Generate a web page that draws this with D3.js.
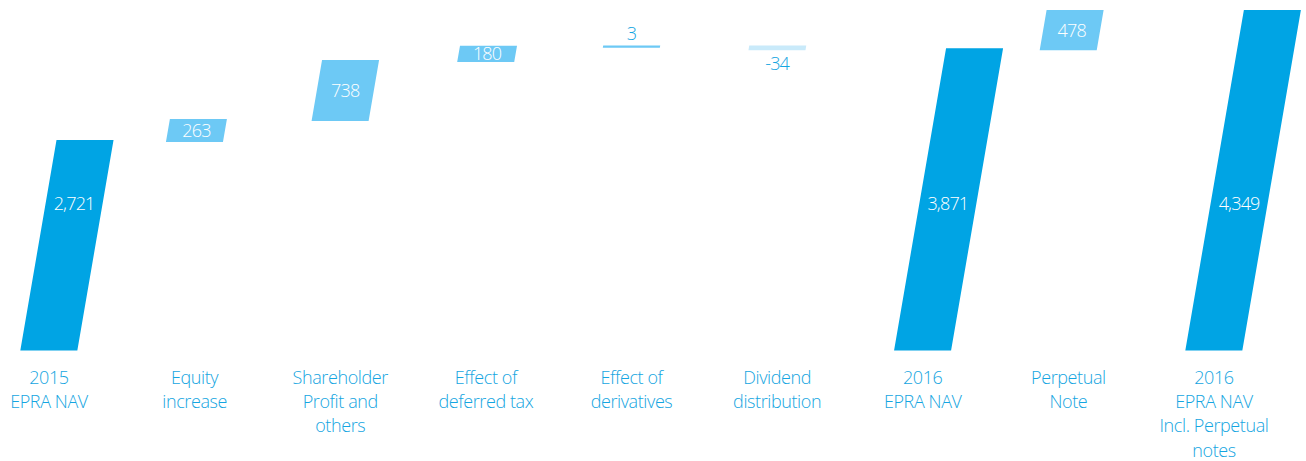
<!DOCTYPE html>
<html>
<head>
<meta charset="utf-8">
<script src="https://cdn.jsdelivr.net/npm/d3@7"></script>
<style>
  html, body { margin: 0; padding: 0; background: #fff; }
  svg { display: block; }
</style>
</head>
<body>
<svg id="chart" width="1306" height="461"></svg>
<script>
// EPRA NAV bridge, 2015 -> 2016 (EUR m)
const categories = [
  ["2015", "EPRA NAV"],
  ["Equity", "increase"],
  ["Shareholder", "Profit and", "others"],
  ["Effect of", "deferred tax"],
  ["Effect of", "derivatives"],
  ["Dividend", "distribution"],
  ["2016", "EPRA NAV"],
  ["Perpetual", "Note"],
  ["2016", "EPRA NAV", "Incl. Perpetual", "notes"]
];
const values = [2721, 263, 738, 180, 3, -34, 3871, 478, 4349];
const kinds = ["total", "delta", "delta", "delta", "delta", "delta", "total", "delta", "total"];

const baseY = 349.5;          // bottom edge of the full-height bars
const barW = 55;              // fill width; a 2px stroke in the same colour is added
const slant = 0.172;          // horizontal shift per pixel of bar height
const colTotal = "#00a4e4";
const colUp = "#6dc9f5";
const colDown = "#c9eafa";
const colText = "#14a5e1";
const font = "'Open Sans', Lato, sans-serif";

const fmt = d3.formatLocale({ decimal: ".", thousands: ",", grouping: [3], currency: ["", ""], minus: "-" }).format(",");

// running waterfall levels
let level = 0;
const bars = values.map((v, i) => {
  let start, end;
  if (kinds[i] === "total") { start = 0; end = v; level = v; }
  else { start = level; end = level + v; level = end; }
  return { i, v, start, end, kind: kinds[i], label: fmt(v) };
});

const x = d3.scalePoint()
  .domain(d3.range(categories.length))
  .range([49, 1214]);

const y = d3.scaleLinear()
  .domain([0, d3.max(values)])
  .range([358.4, 11]);

const svg = d3.select("#chart");

function geom(d) {
  const cx = x(d.i);
  const yTop = y(Math.max(d.start, d.end));
  const yBot = Math.min(y(Math.min(d.start, d.end)), baseY);
  return { cx, yTop, yBot };
}

function path(d) {
  const { cx, yTop, yBot } = geom(d);
  const s = slant * (yBot - yTop);
  const p = d3.path();
  p.moveTo(cx - barW / 2, yBot);
  p.lineTo(cx + barW / 2, yBot);
  p.lineTo(cx + barW / 2 + s, yTop);
  p.lineTo(cx - barW / 2 + s, yTop);
  p.closePath();
  return p.toString();
}

function fill(d) {
  if (d.kind === "total") return colTotal;
  return d.v >= 0 ? colUp : colDown;
}

svg.append("g")
  .selectAll("path")
  .data(bars)
  .join("path")
  .attr("d", path)
  .attr("fill", fill)
  .attr("stroke", fill)
  .attr("stroke-width", 2)
  .attr("stroke-linejoin", "miter");

// value labels: inside tall bars, outside the very thin ones
const labels = svg.append("g")
  .attr("font-family", font)
  .attr("font-size", 18)
  .attr("font-weight", 300)
  .attr("letter-spacing", -0.8)
  .attr("text-anchor", "middle");

bars.forEach(d => {
  const { cx, yTop, yBot } = geom(d);
  const h = yBot - yTop;
  let ty, color;
  if (d.kind === "total") {
    ty = 210; color = "#fff";
  } else if (h > 10) {
    ty = (yTop + yBot) / 2 + 6.5; color = "#fff";
  } else if (d.v >= 0) {
    ty = yTop - 6; color = colText;
  } else {
    ty = yBot + 21; color = colText;
  }
  const cyMid = ty - 6.5;
  const tx = cx + slant * Math.max(0, yBot - Math.max(yTop, Math.min(yBot, cyMid)));
  labels.append("text")
    .attr("x", tx)
    .attr("y", ty)
    .attr("fill", color)
    .text(d.label);
});

// category labels
const cat = svg.append("g")
  .attr("font-family", font)
  .attr("font-size", 18)
  .attr("font-weight", 350)
  .attr("letter-spacing", -0.4)
  .attr("fill", colText)
  .attr("text-anchor", "middle");

categories.forEach((lines, i) => {
  const t = cat.append("text").attr("x", x(i)).attr("y", 383.5);
  lines.forEach((ln, k) => {
    t.append("tspan")
      .attr("x", x(i))
      .attr("dy", k === 0 ? 0 : 24.4)
      .text(ln);
  });
});
</script>
</body>
</html>
